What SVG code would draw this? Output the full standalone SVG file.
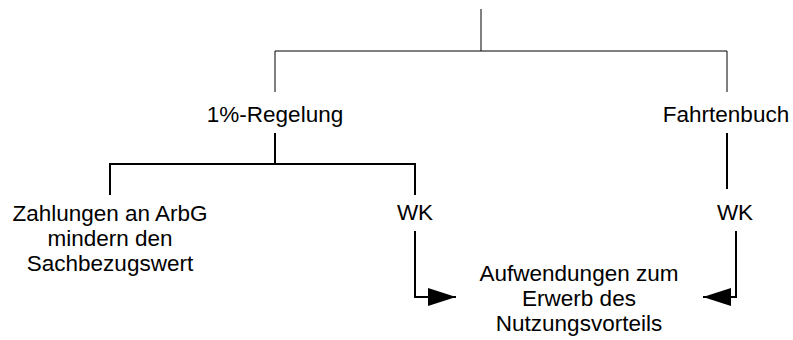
<svg xmlns="http://www.w3.org/2000/svg" width="793" height="340" viewBox="0 0 793 340">
<style>
text{font-family:"Liberation Sans",Arial,sans-serif;font-size:22.5px;fill:#000;text-anchor:middle}
.thin{stroke:#000;stroke-width:1;fill:none}
.thick{stroke:#000;stroke-width:2;fill:none}
</style>
<defs>
<marker id="ah" markerWidth="28" markerHeight="18" refX="28" refY="9" orient="auto" markerUnits="userSpaceOnUse">
<path d="M0,0 L28,9 L0,18 Z" fill="#000"/>
</marker>
</defs>
<g id="connectors">
<path class="thin" d="M481,9 V51 M275,92 V51 H727 V92"/>
<path class="thick" d="M275,133 V164 M110,195 V164 H415 V195"/>
<path class="thick" d="M727,133 V189"/>
<path class="thick" d="M415,231 V297 H456" marker-end="url(#ah)"/>
<path class="thick" d="M736,231 V297 H703" marker-end="url(#ah)"/>
</g>
<g id="regelung"><text x="275" y="122">1%-Regelung</text></g>
<g id="fahrtenbuch"><text x="726" y="122">Fahrtenbuch</text></g>
<g id="zahlungen"><text x="110" y="221">Zahlungen an ArbG</text><text x="110" y="246">mindern den</text><text x="110" y="271">Sachbezugswert</text></g>
<g id="wk1"><text x="415" y="220">WK</text></g>
<g id="wk2"><text x="735" y="220">WK</text></g>
<g id="aufwendungen"><text x="579" y="281">Aufwendungen zum</text><text x="579" y="306">Erwerb des</text><text x="579" y="331">Nutzungsvorteils</text></g>
</svg>
